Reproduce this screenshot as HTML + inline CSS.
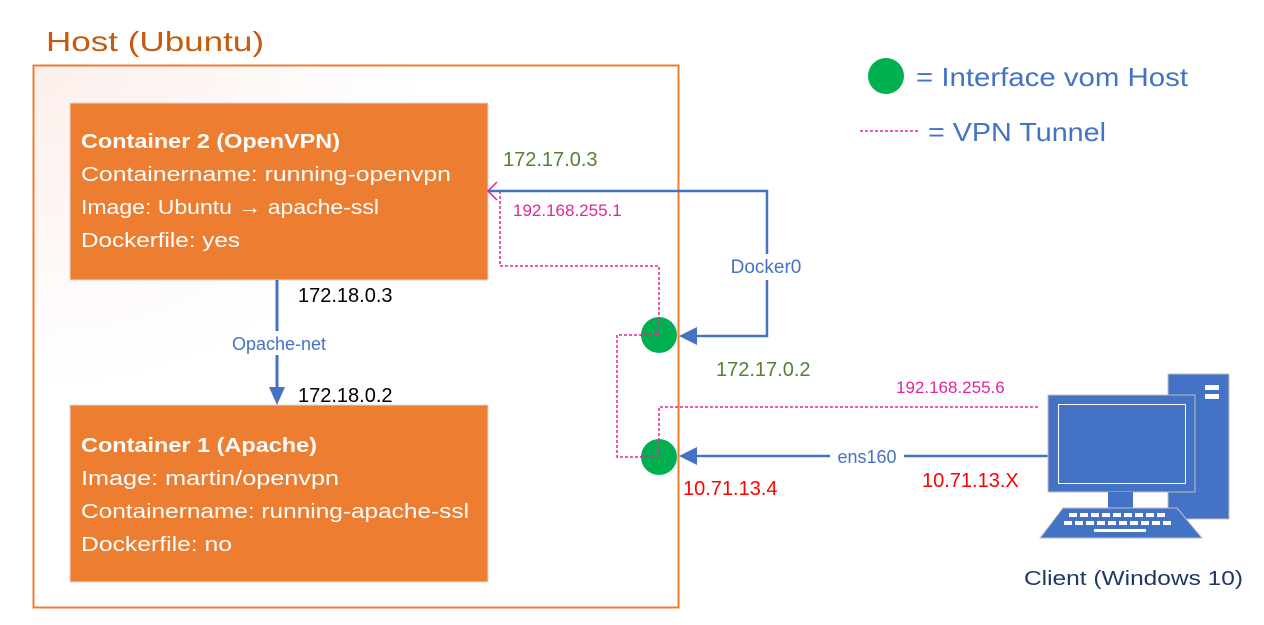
<!DOCTYPE html>
<html><head><meta charset="utf-8"><style>
html,body{margin:0;padding:0;background:#fff;width:1264px;height:625px;overflow:hidden}
svg{display:block}
text{font-family:"Liberation Sans",sans-serif}
</style></head><body>
<svg width="1264" height="625" viewBox="0 0 1264 625" xmlns="http://www.w3.org/2000/svg">
<defs>
<radialGradient id="g" cx="0" cy="0" r="1.2">
<stop offset="0" stop-color="#fcefeb"/><stop offset="0.5" stop-color="#fff"/><stop offset="1" stop-color="#fff"/>
</radialGradient>
</defs>
<text x="46" y="51" font-size="28" fill="#c55a11" textLength="218" lengthAdjust="spacingAndGlyphs">Host (Ubuntu)</text>
<rect x="33.5" y="65.5" width="645" height="542" fill="url(#g)" stroke="#ed7d31" stroke-width="2"/>
<rect x="70" y="103" width="418" height="177" fill="#ed7d31" stroke="#d9d9d9" stroke-width="1"/>
<g fill="#fff" font-size="20">
<text x="81" y="148" font-weight="bold" textLength="259" lengthAdjust="spacingAndGlyphs">Container 2 (OpenVPN)</text>
<text x="81" y="181" textLength="370" lengthAdjust="spacingAndGlyphs">Containername: running-openvpn</text>
<text x="81" y="214" textLength="298" lengthAdjust="spacingAndGlyphs">Image: Ubuntu <tspan font-weight="bold">→</tspan> apache-ssl</text>
<text x="81" y="247" textLength="159" lengthAdjust="spacingAndGlyphs">Dockerfile: yes</text>
</g>
<rect x="70" y="405" width="418" height="177" fill="#ed7d31" stroke="#d9d9d9" stroke-width="1"/>
<g fill="#fff" font-size="20">
<text x="81" y="452" font-weight="bold" textLength="236" lengthAdjust="spacingAndGlyphs">Container 1 (Apache)</text>
<text x="81" y="485" textLength="258" lengthAdjust="spacingAndGlyphs">Image: martin/openvpn</text>
<text x="81" y="518" textLength="388" lengthAdjust="spacingAndGlyphs">Containername: running-apache-ssl</text>
<text x="81" y="551" textLength="151" lengthAdjust="spacingAndGlyphs">Dockerfile: no</text>
</g>
<line x1="277" y1="280" x2="277" y2="390" stroke="#4472c4" stroke-width="3"/>
<polygon points="269,387 285,387 277,405" fill="#4472c4"/>
<rect x="220" y="331" width="118" height="24" fill="#fff"/>
<text x="279" y="350" font-size="18" fill="#4472c4" text-anchor="middle">Opache-net</text>
<text x="298" y="302" font-size="20" fill="#000">172.18.0.3</text>
<text x="298" y="402" font-size="20" fill="#000">172.18.0.2</text>
<polyline points="692,336 767,336 767,191 489,191" fill="none" stroke="#4472c4" stroke-width="2.5"/>
<polygon points="679,336 697,327 697,345" fill="#4472c4"/>
<rect x="722" y="254" width="90" height="26" fill="#fff"/>
<text x="766" y="273" font-size="19" fill="#4472c4" text-anchor="middle">Docker0</text>
<g fill="none" stroke="#e6239c" stroke-width="1.5" stroke-dasharray="3,2">
<polyline points="500,191 500,266 659,266 659,335 617,335 617,457 659,457 659,407 1040,407"/>
</g>
<polyline points="497,182 488,191 497,200" fill="none" stroke="#e6239c" stroke-width="1.5"/>
<circle cx="659" cy="335" r="18" fill="#00b050"/>
<circle cx="659" cy="457" r="18" fill="#00b050"/>
<g fill="none" stroke="#e6239c" stroke-width="1.5" stroke-dasharray="3,2">
<polyline points="659,317 659,335 640,335"/>
<polyline points="640,457 659,457 659,440"/>
</g>
<line x1="692" y1="456" x2="1060" y2="456" stroke="#4472c4" stroke-width="2.5"/>
<polygon points="679,456 697,447 697,465" fill="#4472c4"/>
<rect x="830" y="446" width="74" height="22" fill="#fff"/>
<text x="867" y="463" font-size="18" fill="#4472c4" text-anchor="middle">ens160</text>
<text x="503" y="166" font-size="20" fill="#548235">172.17.0.3</text>
<text x="513" y="216" font-size="17" fill="#e6239c">192.168.255.1</text>
<text x="716" y="376" font-size="20" fill="#548235">172.17.0.2</text>
<text x="896" y="393" font-size="17" fill="#e6239c">192.168.255.6</text>
<text x="683" y="495" font-size="20" fill="#ff0000">10.71.13.4</text>
<text x="922" y="487" font-size="20" fill="#ff0000">10.71.13.X</text>
<circle cx="886" cy="76" r="18" fill="#00b050"/>
<text x="916" y="86" font-size="26" fill="#4472c4" textLength="272" lengthAdjust="spacingAndGlyphs">= Interface vom Host</text>
<line x1="860" y1="131" x2="918" y2="131" stroke="#e6239c" stroke-width="1.5" stroke-dasharray="3,2"/>
<text x="928" y="141" font-size="26" fill="#4472c4" textLength="178" lengthAdjust="spacingAndGlyphs">= VPN Tunnel</text>
<rect x="1168" y="374" width="61" height="145" fill="#4472c4" stroke="#bfbfbf"/>
<rect x="1205" y="385" width="14" height="5" fill="#fff"/>
<rect x="1205" y="394" width="14" height="5" fill="#fff"/>
<rect x="1048" y="395" width="147" height="97" fill="#4472c4" stroke="#bfbfbf"/>
<rect x="1058.5" y="404.5" width="127" height="79" fill="none" stroke="#fff" stroke-width="1"/>
<rect x="1108" y="492" width="25" height="17" fill="#4472c4"/>
<polygon points="1040,538 1063,508 1177,508 1202,538" fill="#4472c4" stroke="#bfbfbf"/>
<g fill="#fff">
<rect x="1069" y="513" width="8" height="4"/><rect x="1080" y="513" width="8" height="4"/><rect x="1091" y="513" width="8" height="4"/><rect x="1102" y="513" width="8" height="4"/><rect x="1113" y="513" width="8" height="4"/><rect x="1124" y="513" width="8" height="4"/><rect x="1135" y="513" width="8" height="4"/><rect x="1146" y="513" width="8" height="4"/><rect x="1157" y="513" width="8" height="4"/>
<rect x="1064" y="521" width="8" height="4"/><rect x="1075" y="521" width="8" height="4"/><rect x="1086" y="521" width="8" height="4"/><rect x="1097" y="521" width="8" height="4"/><rect x="1108" y="521" width="8" height="4"/><rect x="1119" y="521" width="8" height="4"/><rect x="1130" y="521" width="8" height="4"/><rect x="1141" y="521" width="8" height="4"/><rect x="1152" y="521" width="8" height="4"/><rect x="1163" y="521" width="8" height="4"/>
<rect x="1094" y="529" width="52" height="3"/>
</g>
<text x="1024" y="585" font-size="20" fill="#1f3864" textLength="219" lengthAdjust="spacingAndGlyphs">Client (Windows 10)</text>
</svg>
</body></html>
